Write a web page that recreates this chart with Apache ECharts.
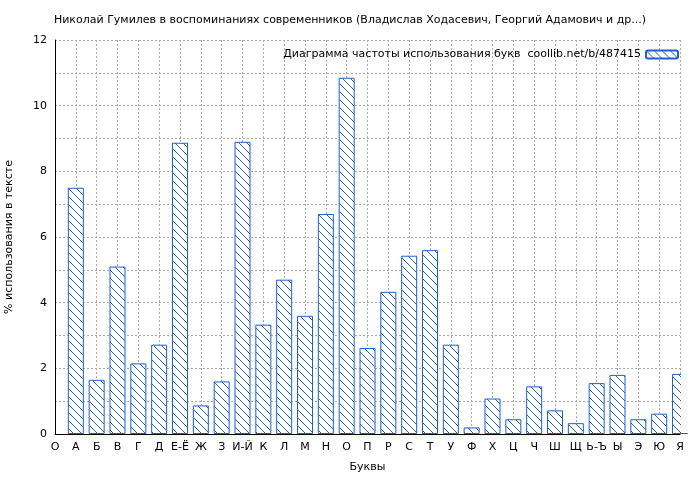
<!DOCTYPE html>
<html><head><meta charset="utf-8">
<script src="https://cdn.jsdelivr.net/npm/echarts@6/dist/echarts.min.js"></script>
<style>html,body{margin:0;background:#fff}#c{width:700px;height:480px}</style>
</head><body><div id="c"></div>
<script>
const categories=['О','А','Б','В','Г','Д','Е-Ё','Ж','З','И-Й','К','Л','М','Н','О','П','Р','С','Т','У','Ф','Х','Ц','Ч','Ш','Щ','Ь-Ъ','Ы','Э','Ю','Я'];
const values=[null,7.5,1.65,5.1,2.15,2.72,8.87,0.87,1.6,8.9,3.33,4.7,3.6,6.7,10.85,2.62,4.33,5.43,5.6,2.72,0.2,1.08,0.45,1.45,0.72,0.33,1.55,1.8,0.45,0.62,1.83];
const yTicks=[0,2,4,6,8,10,12];
const cv=document.createElement('canvas');cv.width=8;cv.height=8;
const g=cv.getContext('2d');g.fillStyle='#fff';g.fillRect(0,0,8,8);
g.strokeStyle='#1f5fd0';g.lineWidth=1;
for(let k=-8;k<=16;k+=8){g.beginPath();g.moveTo(k,0);g.lineTo(k+8,8);g.stroke();}
const pat={image:cv,repeat:'repeat'};
const font='DejaVu Sans';
const ch=echarts.init(document.getElementById('c'));
ch.setOption({
 animation:false,backgroundColor:'#fff',
 textStyle:{fontFamily:font},
 title:{text:'Николай Гумилев в воспоминаниях современников (Владислав Ходасевич, Георгий Адамович и др...)',left:'center',top:10,textStyle:{fontSize:11,fontWeight:'normal',color:'#000',fontFamily:font}},
 legend:{top:44,right:16,align:'right',itemWidth:32,itemHeight:8,textStyle:{fontSize:11,color:'#000',fontFamily:font},data:['Диаграмма частоты использования букв  coollib.net/b/487415']},
 grid:{left:55,right:20,top:40,bottom:46,outerBoundsMode:'none',containLabel:false},
 xAxis:{type:'category',data:categories,boundaryGap:false,name:'Буквы',nameLocation:'middle',nameGap:28,nameTextStyle:{fontSize:11,color:'#000'},
  axisLine:{lineStyle:{color:'#000'}},axisTick:{show:false},axisLabel:{interval:0,fontSize:11,color:'#000'},
  splitLine:{show:true,lineStyle:{color:'#aaa',type:[2,2]}}},
 yAxis:{type:'value',min:0,max:12,interval:2,name:'% использования в тексте',nameLocation:'middle',nameGap:40,nameTextStyle:{fontSize:11,color:'#000'},
  axisLine:{show:true,lineStyle:{color:'#000'}},axisTick:{show:false},axisLabel:{fontSize:11,color:'#000',formatter:v=>yTicks.includes(v)?String(v):''},
  splitLine:{show:true,lineStyle:{color:'#aaa',type:[2,2]}},
  minorSplitLine:{show:true,lineStyle:{color:'#aaa',type:[2,2]}},minorTick:{show:false,splitNumber:2}},
 graphic:[{type:'rect',shape:{x:681,y:0,width:19,height:433},style:{fill:'#fff'},z:100}],
 series:[{name:'Диаграмма частоты использования букв  coollib.net/b/487415',type:'bar',data:values,barWidth:16,clip:true,
  itemStyle:{color:pat,borderColor:'#1f5fd0',borderWidth:1}}]
});
</script></body></html>
